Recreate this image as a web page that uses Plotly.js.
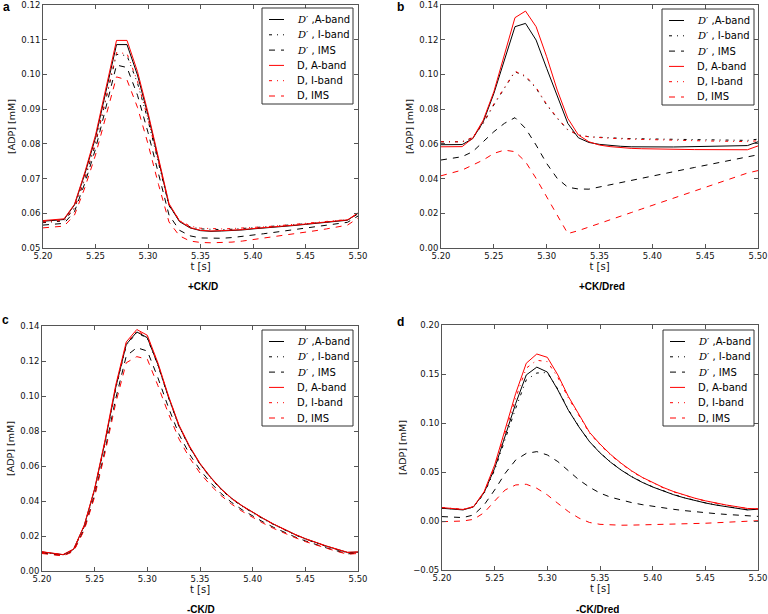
<!DOCTYPE html>
<html><head><meta charset="utf-8">
<script src="https://cdn.plot.ly/plotly-3.0.1.min.js"></script>
<style>html,body{margin:0;padding:0;background:#fff}#chart{width:768px;height:614px}</style>
</head><body><div id="chart"></div>
<script>
// ---------------- data ----------------
const t = [5.20,5.21,5.22,5.23,5.24,5.25,5.26,5.27,5.28,5.29,5.30,5.31,5.32,5.33,5.34,5.35,5.36,5.37,5.38,5.39,5.40,5.41,5.42,5.43,5.44,5.45,5.46,5.47,5.48,5.49,5.50];

const seriesNames = ["D′ ,A-band","D′ , I-band","D′ , IMS","D, A-band","D, I-band","D, IMS"];
const panelTitles = ["+CK/D","+CK/Dred","-CK/D","-CK/Dred"];
const panelLetters = ["a","b","c","d"];
const xTickVals = [5.20,5.25,5.30,5.35,5.40,5.45,5.50];
const yTickVals_a = [0.05,0.06,0.07,0.08,0.09,0.10,0.11,0.12];
const yTickVals_b = [0.00,0.02,0.04,0.06,0.08,0.10,0.12,0.14];
const yTickVals_c = [0.00,0.02,0.04,0.06,0.08,0.10,0.12,0.14];
const yTickVals_d = [-0.05,0.00,0.05,0.10,0.15,0.20];

// panel a: +CK/D
const a_DpA = [0.0577,0.0579,0.0582,0.0624,0.0715,0.0818,0.0950,0.1086,0.1086,0.0998,0.0883,0.0749,0.0624,0.0576,0.0558,0.0550,0.0548,0.0549,0.0550,0.0552,0.0555,0.0557,0.0559,0.0562,0.0565,0.0568,0.0571,0.0574,0.0577,0.0580,0.0600];
const a_DpI = [0.0573,0.0575,0.0578,0.0614,0.0700,0.0800,0.0925,0.1058,0.1054,0.0975,0.0868,0.0742,0.0622,0.0578,0.0561,0.0555,0.0553,0.0553,0.0554,0.0556,0.0558,0.0560,0.0562,0.0565,0.0567,0.0570,0.0572,0.0575,0.0578,0.0581,0.0598];
const a_DpS = [0.0566,0.0568,0.0571,0.0605,0.0688,0.0785,0.0905,0.1027,0.1020,0.0940,0.0833,0.0710,0.0595,0.0551,0.0535,0.0529,0.0528,0.0528,0.0530,0.0533,0.0537,0.0541,0.0545,0.0549,0.0553,0.0557,0.0561,0.0565,0.0569,0.0574,0.0592];
const a_DA  = [0.0579,0.0581,0.0584,0.0626,0.0720,0.0825,0.0960,0.1098,0.1098,0.1008,0.0890,0.0755,0.0628,0.0578,0.0559,0.0551,0.0549,0.0550,0.0551,0.0553,0.0556,0.0558,0.0560,0.0563,0.0566,0.0569,0.0572,0.0575,0.0578,0.0581,0.0601];
const a_DI  = [0.0575,0.0577,0.0580,0.0616,0.0703,0.0805,0.0932,0.1063,0.1060,0.0980,0.0872,0.0745,0.0624,0.0580,0.0563,0.0557,0.0555,0.0555,0.0556,0.0557,0.0559,0.0561,0.0563,0.0566,0.0568,0.0571,0.0573,0.0576,0.0579,0.0582,0.0598];
const a_DS  = [0.0558,0.0560,0.0563,0.0595,0.0675,0.0768,0.0882,0.0993,0.0984,0.0905,0.0800,0.0683,0.0575,0.0535,0.0520,0.0516,0.0515,0.0515,0.0517,0.0520,0.0524,0.0528,0.0532,0.0536,0.0541,0.0545,0.0550,0.0555,0.0560,0.0566,0.0586];

// panel b: +CK/Dred
const b_DpA = [0.0595,0.0595,0.0596,0.0630,0.0727,0.0890,0.1083,0.1275,0.1294,0.1198,0.1035,0.0872,0.0718,0.0635,0.0608,0.0597,0.0590,0.0586,0.0583,0.0582,0.0581,0.0581,0.0582,0.0583,0.0584,0.0585,0.0586,0.0587,0.0588,0.0590,0.0612];
const b_DpI = [0.0612,0.0612,0.0612,0.0635,0.0718,0.0824,0.0920,0.1016,0.0987,0.0920,0.0824,0.0747,0.0680,0.0651,0.0641,0.0637,0.0634,0.0632,0.0630,0.0629,0.0628,0.0627,0.0626,0.0625,0.0624,0.0623,0.0622,0.0621,0.0620,0.0620,0.0627];
const b_DpS = [0.0507,0.0516,0.0526,0.0555,0.0612,0.0670,0.0718,0.0751,0.0689,0.0593,0.0487,0.0401,0.0350,0.0340,0.0339,0.0352,0.0364,0.0377,0.0389,0.0402,0.0414,0.0427,0.0439,0.0452,0.0464,0.0477,0.0489,0.0502,0.0514,0.0525,0.0537];
const b_DA  = [0.0583,0.0583,0.0584,0.0632,0.0737,0.0900,0.1112,0.1327,0.1365,0.1275,0.1102,0.0910,0.0747,0.0651,0.0612,0.0593,0.0584,0.0578,0.0574,0.0572,0.0570,0.0569,0.0568,0.0568,0.0567,0.0567,0.0567,0.0566,0.0566,0.0566,0.0588];
const b_DI  = [0.0612,0.0612,0.0612,0.0637,0.0722,0.0830,0.0925,0.1018,0.0992,0.0925,0.0828,0.0750,0.0682,0.0652,0.0640,0.0635,0.0632,0.0629,0.0627,0.0625,0.0623,0.0622,0.0620,0.0619,0.0618,0.0617,0.0616,0.0615,0.0614,0.0613,0.0618];
const b_DS  = [0.0416,0.0432,0.0449,0.0478,0.0507,0.0545,0.0564,0.0555,0.0497,0.0401,0.0295,0.0195,0.0083,0.0100,0.0120,0.0141,0.0162,0.0183,0.0204,0.0225,0.0246,0.0267,0.0288,0.0309,0.0330,0.0351,0.0372,0.0393,0.0414,0.0432,0.0446];

// panel c: -CK/D
const c_DpA = [0.0109,0.0100,0.0093,0.0124,0.0257,0.0467,0.0743,0.1048,0.1295,0.1366,0.1333,0.1180,0.0995,0.0830,0.0710,0.0612,0.0535,0.0468,0.0415,0.0372,0.0335,0.0300,0.0267,0.0237,0.0209,0.0184,0.0162,0.0142,0.0124,0.0106,0.0108];
const c_DpI = [0.0107,0.0098,0.0091,0.0121,0.0252,0.0460,0.0735,0.1040,0.1290,0.1362,0.1330,0.1177,0.0992,0.0827,0.0707,0.0609,0.0532,0.0465,0.0412,0.0369,0.0332,0.0297,0.0265,0.0235,0.0207,0.0182,0.0160,0.0140,0.0122,0.0104,0.0106];
const c_DpS = [0.0103,0.0095,0.0088,0.0115,0.0238,0.0435,0.0695,0.0985,0.1229,0.1276,0.1257,0.1105,0.0935,0.0782,0.0668,0.0578,0.0505,0.0443,0.0392,0.0350,0.0314,0.0280,0.0249,0.0221,0.0195,0.0172,0.0151,0.0132,0.0115,0.0098,0.0102];
const c_DA  = [0.0110,0.0101,0.0094,0.0125,0.0260,0.0472,0.0752,0.1062,0.1309,0.1380,0.1347,0.1190,0.1002,0.0835,0.0714,0.0615,0.0537,0.0470,0.0416,0.0373,0.0336,0.0301,0.0268,0.0238,0.0210,0.0185,0.0163,0.0143,0.0125,0.0107,0.0109];
const c_DI  = [0.0108,0.0099,0.0092,0.0122,0.0255,0.0465,0.0742,0.1052,0.1300,0.1372,0.1340,0.1184,0.0997,0.0830,0.0710,0.0611,0.0534,0.0467,0.0413,0.0370,0.0333,0.0298,0.0266,0.0236,0.0208,0.0183,0.0161,0.0141,0.0123,0.0105,0.0107];
const c_DS  = [0.0100,0.0092,0.0086,0.0112,0.0232,0.0425,0.0680,0.0960,0.1190,0.1225,0.1210,0.1060,0.0900,0.0755,0.0647,0.0560,0.0490,0.0431,0.0382,0.0341,0.0306,0.0273,0.0243,0.0216,0.0191,0.0168,0.0148,0.0129,0.0112,0.0096,0.0100];

// panel d: -CK/Dred
const d_DpA = [0.0130,0.0122,0.0113,0.0145,0.0290,0.0538,0.0878,0.1200,0.1490,0.1570,0.1520,0.1337,0.1130,0.0960,0.0810,0.0695,0.0600,0.0520,0.0452,0.0395,0.0347,0.0305,0.0268,0.0236,0.0208,0.0184,0.0163,0.0145,0.0129,0.0113,0.0120];
const d_DpI = [0.0133,0.0124,0.0115,0.0143,0.0280,0.0520,0.0845,0.1150,0.1440,0.1510,0.1515,0.1345,0.1135,0.0962,0.0812,0.0697,0.0602,0.0522,0.0454,0.0397,0.0349,0.0307,0.0270,0.0238,0.0210,0.0186,0.0165,0.0147,0.0131,0.0115,0.0121];
const d_DpS = [0.0045,0.0040,0.0035,0.0062,0.0164,0.0317,0.0487,0.0623,0.0690,0.0708,0.0674,0.0606,0.0511,0.0420,0.0345,0.0285,0.0243,0.0212,0.0188,0.0167,0.0149,0.0133,0.0119,0.0106,0.0094,0.0084,0.0075,0.0067,0.0059,0.0052,0.0047];
const d_DA  = [0.0137,0.0128,0.0118,0.0147,0.0300,0.0572,0.0946,0.1303,0.1610,0.1704,0.1670,0.1490,0.1270,0.1080,0.0905,0.0785,0.0680,0.0590,0.0512,0.0446,0.0390,0.0342,0.0300,0.0264,0.0233,0.0206,0.0183,0.0163,0.0146,0.0128,0.0125];
const d_DI  = [0.0137,0.0128,0.0118,0.0146,0.0292,0.0555,0.0915,0.1255,0.1560,0.1640,0.1626,0.1465,0.1255,0.1070,0.0897,0.0778,0.0674,0.0585,0.0508,0.0442,0.0387,0.0339,0.0297,0.0262,0.0231,0.0204,0.0181,0.0161,0.0144,0.0126,0.0124];
const d_DS  = [-0.0007,-0.0004,0.0000,0.0017,0.0085,0.0204,0.0317,0.0368,0.0375,0.0334,0.0266,0.0180,0.0096,0.0030,-0.0015,-0.0034,-0.0041,-0.0043,-0.0042,-0.0040,-0.0038,-0.0035,-0.0032,-0.0029,-0.0026,-0.0023,-0.0018,-0.0013,-0.0008,-0.0003,0.0003];

// ---------------- layout / styling ----------------
const W = 768, H = 614;
const px = x => x / W;
const py = y => 1 - y / H;
const EPS = 1e-6;

const styles = [
  {color:'#000000', dash:'solid'},
  {color:'#000000', dash:'3px,5px,1px,5px'},
  {color:'#000000', dash:'6px,6px'},
  {color:'#ff0000', dash:'solid'},
  {color:'#ff0000', dash:'3px,5px,1px,5px'},
  {color:'#ff0000', dash:'6px,6px'}
];

const panels = [
  {ax:'', series:[a_DpA,a_DpI,a_DpS,a_DA,a_DI,a_DS], box:[43,5,358,248], yt:yTickVals_a,
   leg:[262,8,353,104], sub:[203,286], let:[6,7]},
  {ax:'2', series:[b_DpA,b_DpI,b_DpS,b_DA,b_DI,b_DS], box:[441,5,758,248], yt:yTickVals_b,
   leg:[662,9,754,105], sub:[602,286], let:[400,7]},
  {ax:'3', series:[c_DpA,c_DpI,c_DpS,c_DA,c_DI,c_DS], box:[42,326,358,571], yt:yTickVals_c,
   leg:[262,330,353,426], sub:[201,609], let:[5,320]},
  {ax:'4', series:[d_DpA,d_DpI,d_DpS,d_DA,d_DI,d_DS], box:[442,325,758,570], yt:yTickVals_d,
   leg:[663,330,754,426], sub:[597,609], let:[400,322]}
];

const tickFont = {family:'DejaVu Sans', size:8.5, color:'#111'};
const titleFont = {family:'DejaVu Sans', size:9.5, color:'#111'};
const frame = '#555';

const traces = [];
const layout = {
  width: W, height: H,
  margin:{l:0,r:0,t:0,b:0},
  paper_bgcolor:'#fff', plot_bgcolor:'#fff',
  showlegend:false,
  font: titleFont,
  shapes:[], annotations:[]
};

function legendLabel(i){
  const n = seriesNames[i];
  if (n.startsWith('D′')) {
    return '<span style="font-family:DejaVu Serif"><i>D</i>′</span>' + n.slice(2);
  }
  return n;
}

panels.forEach((p, k) => {
  const xa = 'x' + p.ax, ya = 'y' + p.ax;
  p.series.forEach((s, i) => {
    traces.push({
      type:'scatter', mode:'lines', x:t, y:s, name:seriesNames[i],
      xaxis:xa, yaxis:ya,
      line:{color:styles[i].color, dash:styles[i].dash, width:1}
    });
  });
  const [l, tp, r, b] = p.box;
  const ylo = p.yt[0], yhi = p.yt[p.yt.length - 1];
  layout['xaxis' + p.ax] = {
    domain:[px(l), px(r)], anchor:ya,
    range:[xTickVals[0] - EPS, xTickVals[xTickVals.length - 1] + EPS],
    tickmode:'array', tickvals:xTickVals, tickformat:'.2f', ticklabeloverflow:'allow',
    ticks:'inside', ticklen:4, tickcolor:frame, tickwidth:1,
    showline:true, linecolor:frame, linewidth:1, mirror:'ticks',
    showgrid:false, zeroline:false, tickfont:tickFont,
    title:{text:'t [s]', font:{family:'DejaVu Sans', size:10, color:'#111'}, standoff:0}
  };
  layout['yaxis' + p.ax] = {
    domain:[py(b), py(tp)], anchor:xa,
    range:[ylo - EPS, yhi + EPS],
    tickmode:'array', tickvals:p.yt, tickformat:'.2f', ticklabeloverflow:'allow',
    ticks:'inside', ticklen:4, tickcolor:frame, tickwidth:1,
    showline:true, linecolor:frame, linewidth:1, mirror:'ticks',
    showgrid:false, zeroline:false, tickfont:tickFont,
    title:{text:'[ADP] [mM]', font:titleFont, standoff:4}
  };
  // legend box
  const [ll, lt, lr, lb] = p.leg;
  layout.shapes.push({type:'rect', xref:'paper', yref:'paper', layer:'above',
    x0:px(ll), x1:px(lr), y0:py(lb), y1:py(lt),
    line:{color:'#333', width:1}, fillcolor:'#ffffff'});
  for (let i = 0; i < 6; i++) {
    const yy = lt + 11.5 + 15.3 * i;
    layout.shapes.push({type:'line', xref:'paper', yref:'paper', layer:'above',
      x0:px(ll + 7), x1:px(ll + 22), y0:py(yy), y1:py(yy),
      line:{color:styles[i].color, dash:styles[i].dash, width:1}});
    layout.annotations.push({xref:'paper', yref:'paper', x:px(ll + 33), y:py(yy),
      xanchor:'left', yanchor:'middle', showarrow:false, text:legendLabel(i),
      font:{family:'DejaVu Sans', size:10, color:'#000'}});
  }
  // subtitle
  layout.annotations.push({xref:'paper', yref:'paper', x:px(p.sub[0]), y:py(p.sub[1]),
    xanchor:'center', yanchor:'middle', showarrow:false, text:'<b>' + panelTitles[k] + '</b>',
    font:{family:'Liberation Sans', size:10, color:'#000'}});
  // panel letter
  layout.annotations.push({xref:'paper', yref:'paper', x:px(p.let[0]), y:py(p.let[1]),
    xanchor:'center', yanchor:'middle', showarrow:false, text:'<b>' + panelLetters[k] + '</b>',
    font:{family:'Liberation Sans', size:12, color:'#000'}});
});

Plotly.newPlot('chart', traces, layout, {displayModeBar:false, staticPlot:true});
</script>
</body></html>
